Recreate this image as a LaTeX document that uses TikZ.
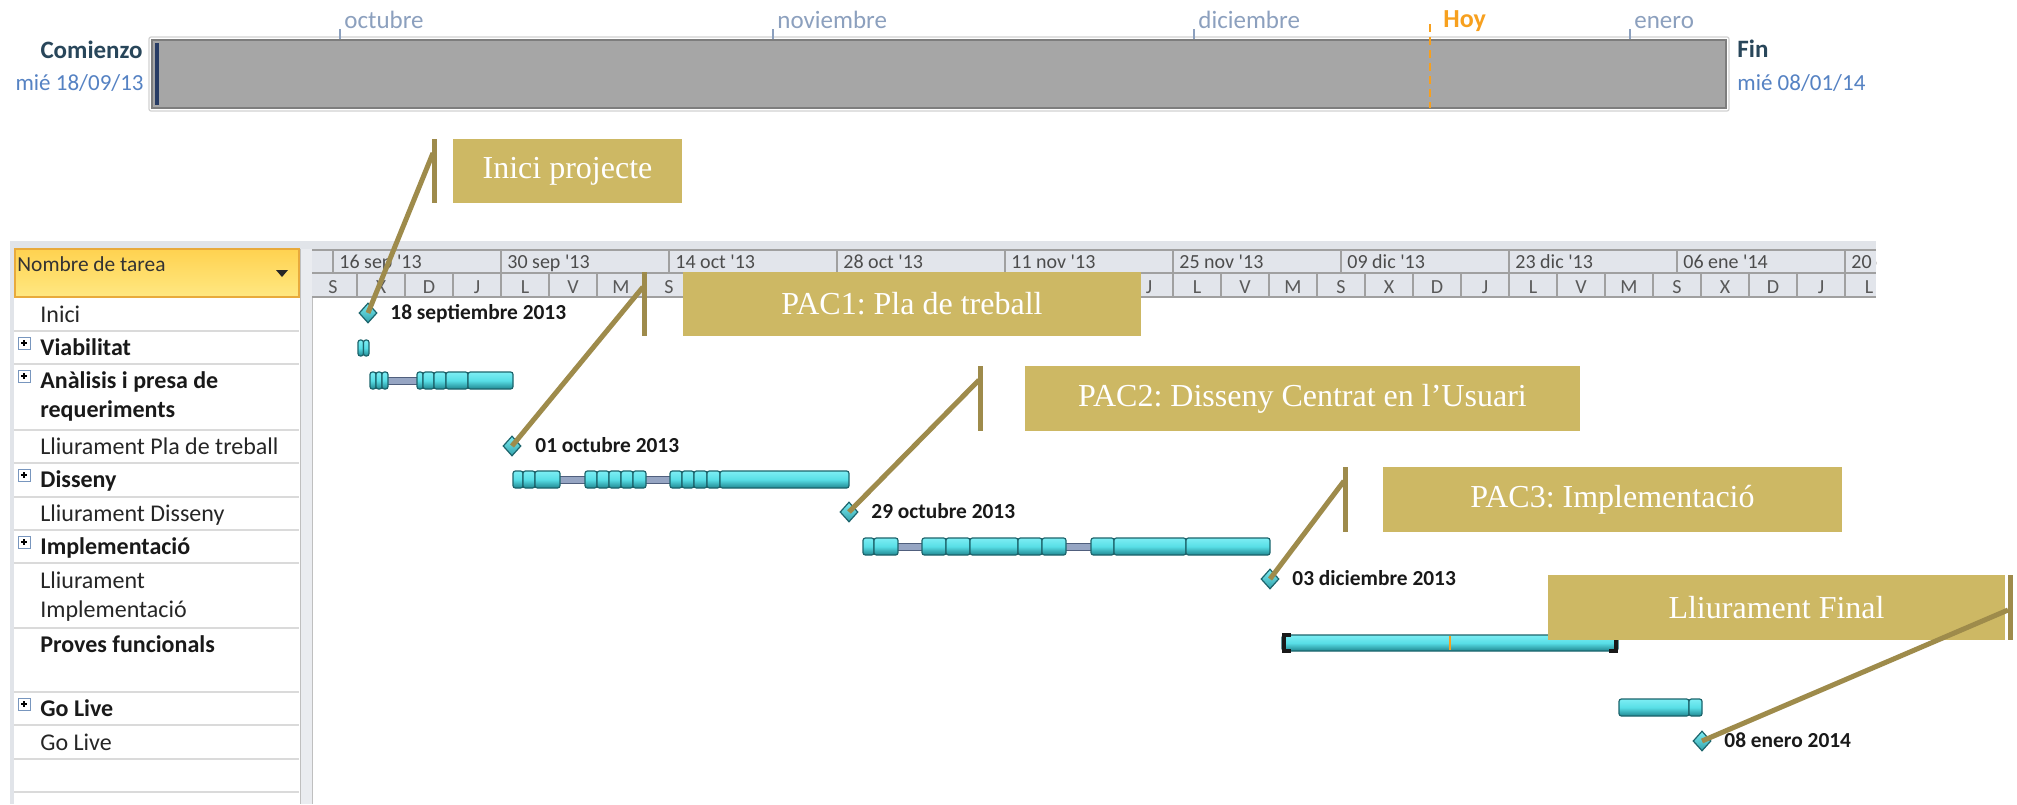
\documentclass[tikz,border=0pt]{standalone}
\usepackage{fontspec}
\setmainfont{Carlito}
\newfontfamily\tmsfont{Liberation Serif}
\usetikzlibrary{shapes.geometric,fit}
\definecolor{gold}{RGB}{205,184,100}
\definecolor{goldline}{RGB}{158,139,75}
\definecolor{barTop}{RGB}{125,238,244}
\definecolor{barMid}{RGB}{88,222,230}
\definecolor{barBot}{RGB}{32,135,145}
\definecolor{barEdge}{RGB}{28,100,108}
\definecolor{connFill}{RGB}{150,165,195}
\definecolor{connEdge}{RGB}{80,95,125}
\definecolor{hdrFill}{RGB}{226,229,235}
\definecolor{hdrLine}{RGB}{160,160,160}
\definecolor{rowLine}{RGB}{218,218,218}
\definecolor{frameGray}{RGB}{225,228,233}
\definecolor{tlGray}{RGB}{166,166,166}
\definecolor{tlEdge}{RGB}{125,125,125}
\definecolor{tlText}{RGB}{140,160,190}
\definecolor{tlDark}{RGB}{40,70,90}
\definecolor{tlBlue}{RGB}{85,130,195}
\definecolor{hoy}{RGB}{247,160,30}
\definecolor{yelTop}{RGB}{255,210,80}
\definecolor{yelBot}{RGB}{255,232,130}
\definecolor{yelEdge}{RGB}{232,170,60}
\definecolor{plusEdge}{RGB}{120,150,190}
\definecolor{navyMark}{RGB}{40,60,100}
\newcommand\plusmark[2]{%
  \draw[draw=plusEdge, fill=white, line width=0.5pt] (#1,#2) rectangle ++(12,12);
  \draw[black, line width=0.7pt] (#1+3,#2+6) -- ++(6,0) (#1+6,#2+3) -- ++(0,6);
}
\newcommand\gbar[3]{\foreach \a/\b in {#3}{\path[seg] (\a,#1) rectangle (\b,#2);}}
\newcommand\sq{\XeTeXglyph\XeTeXcharglyph"27\relax}
\frenchspacing
\begin{document}
\begin{tikzpicture}[x=0.5pt,y=-0.5pt,
  rowtxt/.style={anchor=base west, inner sep=0pt, font=\fontsize{12}{14}\selectfont, text=black!85},
  rowbold/.style={anchor=base west, inner sep=0pt, font=\fontsize{12}{14}\selectfont\bfseries, text=black!90},
  mslabel/.style={anchor=base west, inner sep=0pt, font=\fontsize{10.7}{12}\selectfont\bfseries, text=black!90},
  wk/.style={anchor=base west, inner sep=0pt, font=\fontsize{10}{12}\selectfont, text=black!70},
  dy/.style={anchor=base, inner sep=0pt, font=\fontsize{10}{12}\selectfont, text=black!65},
  seg/.style={draw=barEdge, line width=0.6pt, top color=barTop, bottom color=barBot, middle color=barMid, rounded corners=1.2pt},
  conn/.style={draw=connEdge, line width=0.5pt, fill=connFill},
  ms/.style={diamond, draw=barEdge, line width=0.6pt, top color=barTop, bottom color=barBot!70!barMid, minimum width=9pt, minimum height=10pt, inner sep=0pt},
  callbox/.style={fill=gold, inner sep=0pt},
  calltext/.style={inner sep=0pt, text=white, font=\tmsfont\fontsize{16}{18}\selectfont},
  callline/.style={draw=goldline, line width=2.5pt},
  month/.style={anchor=base west, inner sep=0pt, font=\fontsize{12.5}{14}\selectfont, text=tlText},
  tick/.style={draw=tlText, line width=0.8pt}
]
\useasboundingbox (0,0) rectangle (2017,804);
\fill[white] (0,0) rectangle (2017,804);

% ---------- top timeline ----------
\draw[black!18, line width=0.6pt, rounded corners=1pt] (149,37) rectangle (1729,111);
\draw[fill=tlGray, draw=tlEdge, line width=1.4pt] (152,40) rectangle (1726,108);
\fill[navyMark] (155,43) rectangle (159,105);
\foreach \x/\m in {340/octubre, 773/noviembre, 1194/diciembre, 1630/enero}{
  \draw[tick] (\x,29) -- (\x,39);
  \node[month] at (\x+4,28) {\m};
}
\draw[hoy, line width=1pt, dash pattern=on 4pt off 2.5pt] (1430,24) -- (1430,108);
\node[anchor=base west, inner sep=0pt, font=\fontsize{13}{14}\selectfont\bfseries, text=hoy] (hoyt) at (1443,27) {Hoy};
\node[anchor=base east, inner sep=0pt, font=\fontsize{12.5}{14}\selectfont\bfseries, text=tlDark] (com) at (143,58) {Comienzo};
\node[anchor=base east, inner sep=0pt, font=\fontsize{11.5}{13}\selectfont, text=tlBlue] (comd) at (144,90) {mié 18/09/13};
\node[anchor=base west, inner sep=0pt, font=\fontsize{12.5}{14}\selectfont\bfseries, text=tlDark] (fin) at (1737,57) {Fin};
\node[anchor=base west, inner sep=0pt, font=\fontsize{11.5}{13}\selectfont, text=tlBlue] (find) at (1737,90) {mié 08/01/14};

% ---------- gantt frame ----------
\fill[frameGray] (10,241) rectangle (1876,249);
\fill[frameGray] (10,241) rectangle (14,804);
\fill[frameGray!70] (300,249) rectangle (312,804);
\draw[black!25, line width=0.5pt] (300,249) -- (300,804) (312,249) -- (312,804);
\draw[top color=yelTop, bottom color=yelBot, draw=yelEdge, line width=0.6pt] (15,249) rectangle (299,297);
\node[anchor=base west, inner sep=0pt, font=\fontsize{10.7}{12}\selectfont, text=black!80] (hdr) at (17,271) {Nombre de tarea};
\fill[black!85] (276,270) -- (288,270) -- (282,277) -- cycle;
\foreach \y in {331,364,430,463,497,530,563,628,692,725,759,792}
  \draw[rowLine, line width=1.3pt] (14,\y) -- (299,\y);

% timescale
\begin{scope}
\clip (312,249) rectangle (1876,297);
\fill[hdrFill] (312,249) rectangle (1876,297);
\foreach \i/\t in {0/{16 sep \sq13},1/{30 sep \sq13},2/{14 oct \sq13},3/{28 oct \sq13},4/{11 nov \sq13},5/{25 nov \sq13},6/{09 dic \sq13},7/{23 dic \sq13},8/{06 ene \sq14},9/{20 ene \sq14}}{
  \pgfmathsetmacro\xx{333+168*\i}
  \draw[hdrLine, line width=0.7pt] (\xx,249) -- (\xx,273);
  \node[wk] at (\xx+6,268) {\t};
}
\foreach \w in {0,...,4}{
  \foreach \j/\L in {0/S,1/X,2/D,3/J,4/L,5/V,6/M}{
    \pgfmathsetmacro\xx{309+48*(7*\w+\j)}
    \draw[hdrLine, line width=0.7pt] (\xx,273) -- (\xx,297);
    \node[dy] at (\xx+24,293) {\L};
  }
}
\draw[hdrLine, line width=0.7pt] (312,273) -- (1876,273);
\draw[hdrLine, line width=1pt] (312,249.5) -- (1876,249.5) (312,297) -- (1876,297);
\end{scope}

% ---------- task names ----------
\node[rowtxt] (t1) at (40,322) {Inici};
\plusmark{18}{337}
\node[rowbold] (t2) at (40,355) {Viabilitat};
\plusmark{18}{370}
\node[rowbold] (t3) at (40,388) {Anàlisis i presa de};
\node[rowbold] (t3b) at (40,417) {requeriments};
\node[rowtxt] (t4) at (40,454) {Lliurament Pla de treball};
\plusmark{18}{469}
\node[rowbold] (t5) at (40,487) {Disseny};
\node[rowtxt] (t6) at (40,521) {Lliurament Disseny};
\plusmark{18}{536}
\node[rowbold] (t7) at (40,554) {Implementació};
\node[rowtxt] (t8) at (40,588) {Lliurament};
\node[rowtxt] (t8b) at (40,617) {Implementació};
\node[rowbold] (t9) at (40,652) {Proves funcionals};
\plusmark{18}{698}
\node[rowbold] (t10) at (40,716) {Go Live};
\node[rowtxt] (t11) at (40,750) {Go Live};

% ---------- bars ----------
% Viabilitat
\gbar{340}{356}{358/363.5,363.5/369}
% Analisis
\path[conn] (386,377) rectangle (419,384);
\gbar{372}{389}{370/376,376/382,382/388}
\gbar{372}{389}{417/423,423/434,434/446,446/468,468/513}
% Disseny
\path[conn] (558,476) rectangle (587,483);
\path[conn] (644,476) rectangle (672,483);
\gbar{471}{488}{513/523,523/535,535/560}
\gbar{471}{488}{585/597,597/609,609/621,621/633,633/646}
\gbar{471}{488}{670/682,682/694,694/707,707/720,720/849}
% Implementacio
\path[conn] (896,543) rectangle (924,550);
\path[conn] (1064,543) rectangle (1093,550);
\gbar{538}{555}{863/874,874/898}
\gbar{538}{555}{922/946,946/970,970/1018,1018/1042,1042/1066}
\gbar{538}{555}{1091/1114,1114/1186,1186/1270}
% Proves funcionals
\gbar{635}{651}{1282/1618}
\draw[hoy, line width=0.6pt] (1450,636) -- (1450,650);
\draw[black!90, line width=1.6pt] (1291,635) -- (1284,635) -- (1284,651) -- (1291,651);
\draw[black!90, line width=1.6pt] (1609,635) -- (1616,635) -- (1616,651) -- (1609,651);
% Go Live
\gbar{699}{716}{1619/1689,1689/1702}

% ---------- milestones ----------
\node[ms] (m1) at (368,313) {};
\node[mslabel] at (390,319) {18 septiembre 2013};
\node[ms] (m2) at (512,446) {};
\node[mslabel] at (535,452) {01 octubre 2013};
\node[ms] (m3) at (849,512) {};
\node[mslabel] at (871,518) {29 octubre 2013};
\node[ms] (m4) at (1270,579) {};
\node[mslabel] at (1292,585) {03 diciembre 2013};
\node[ms] (m5) at (1702,741) {};
\node[mslabel] at (1724,747) {08 enero 2014};

% ---------- callouts ----------
\node[callbox, fit={(453,139) (682,203)}] (c1) {};
\node[calltext] at (c1.center) {Inici projecte};
\node[callbox, fit={(683,272) (1141,336)}] (c2) {};
\node[calltext] at (c2.center) {PAC1: Pla de treball};
\node[callbox, fit={(1025,366) (1580,431)}] (c3) {};
\node[calltext] at (c3.center) {PAC2: Disseny Centrat en l’Usuari};
\node[callbox, fit={(1383,467) (1842,532)}] (c4) {};
\node[calltext] at (c4.center) {PAC3: Implementació};
\node[callbox, fit={(1548,575) (2005,640)}] (c5) {};
\node[calltext] at (c5.center) {Lliurament Final};

\coordinate (v1t) at (434,139); \coordinate (v1b) at (434,203); \coordinate (a1) at (433,153);
\coordinate (v2t) at (644,272); \coordinate (v2b) at (644,336); \coordinate (a2) at (643,287);
\coordinate (v3t) at (980,366); \coordinate (v3b) at (980,431); \coordinate (a3) at (979,380);
\coordinate (v4t) at (1345,467); \coordinate (v4b) at (1345,532); \coordinate (a4) at (1344,481);
\coordinate (v5t) at (2010,575); \coordinate (v5b) at (2010,640); \coordinate (a5) at (2008,610);
\foreach \i in {1,...,5}{
  \draw[callline] (v\i t) -- (v\i b);
}
\draw[callline] (a1) -- (m1.center);
\draw[callline] (a2) -- (m2.center);
\draw[callline] (a3) -- (m3.center);
\draw[callline] (a4) -- (m4.center);
\draw[callline] (a5) -- (m5.center);
\end{tikzpicture}
\end{document}
